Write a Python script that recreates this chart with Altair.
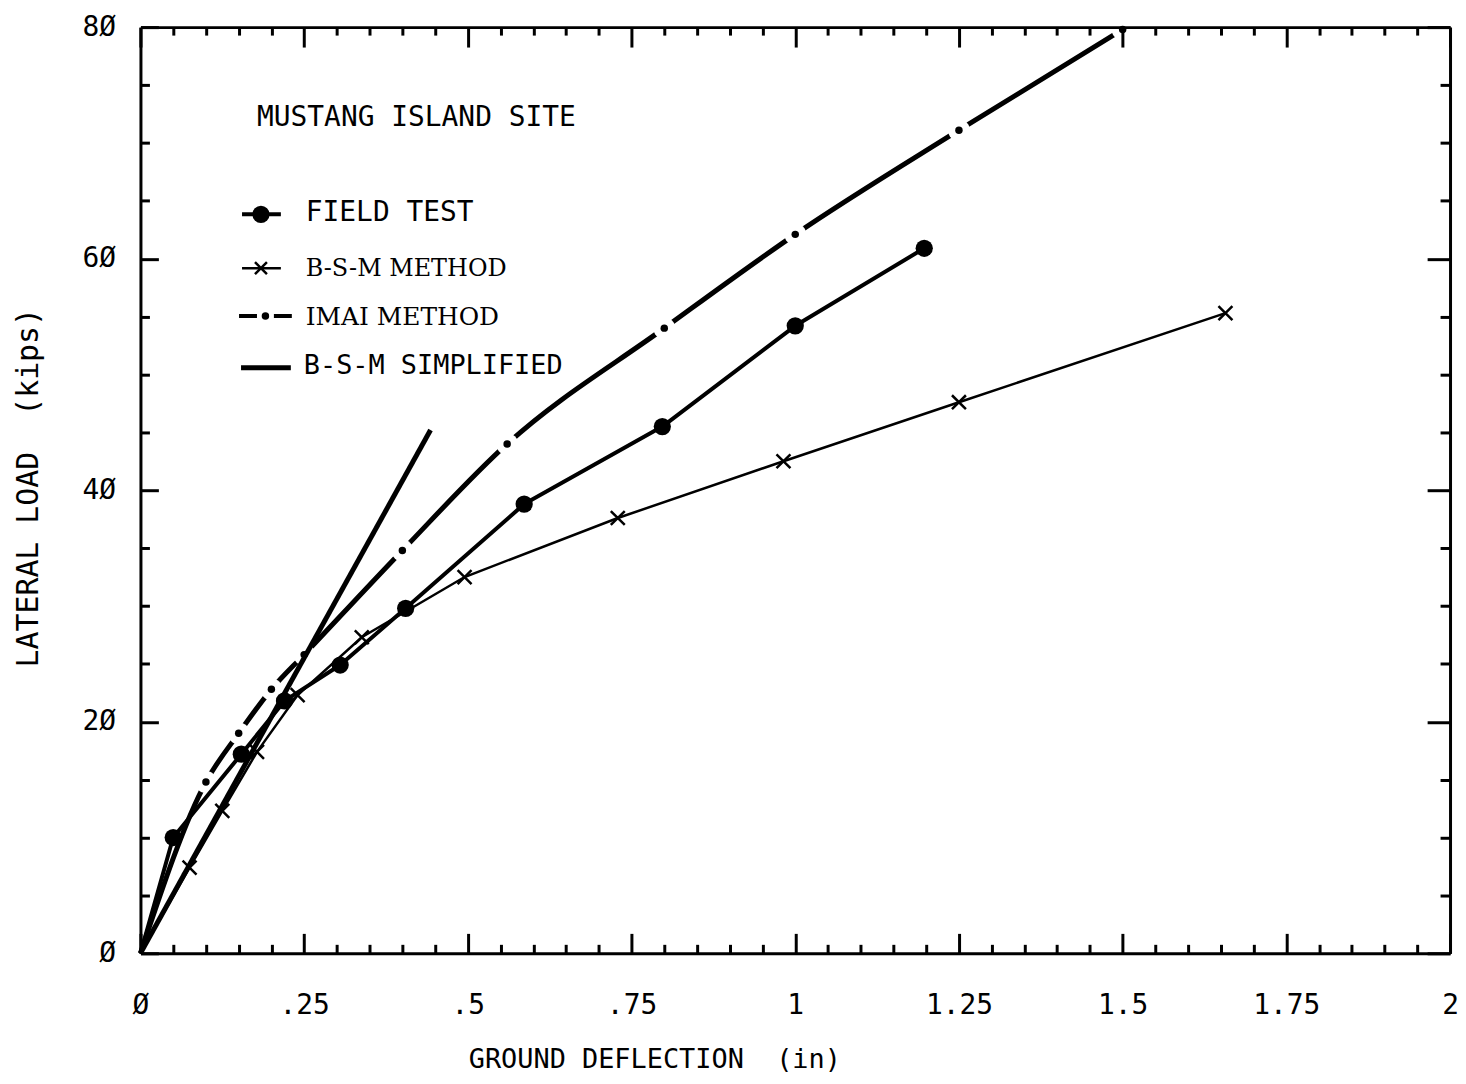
import json
import altair as alt
import pandas as pd

# ---------------- data ----------------
FIELD_X = [0, 0.05, 0.154, 0.22, 0.305, 0.405, 0.586, 0.797, 1.0, 1.197]
FIELD_Y = [0, 10.0, 17.2, 21.8, 24.9, 29.8, 38.8, 45.5, 54.2, 60.9]

BSM_X = [0, 0.075, 0.125, 0.178, 0.24, 0.338, 0.495, 0.729, 0.982, 1.25, 1.657]
BSM_Y = [0, 7.4, 12.3, 17.4, 22.3, 27.3, 32.5, 37.6, 42.5, 47.6, 55.3]

IMAI_X = [0, 0.1, 0.15, 0.2, 0.25, 0.4, 0.56, 0.8, 1.0, 1.25, 1.5]
IMAI_Y = [0, 14.8, 19.0, 22.8, 25.8, 34.8, 44.0, 54.0, 62.1, 71.1, 79.8]

SIMP_X = [0, 0.443]
SIMP_Y = [0, 45.2]

X_MAJOR = [0, 0.25, 0.5, 0.75, 1.0, 1.25, 1.5, 1.75, 2.0]
X_MINOR = [round(i * 0.05, 2) for i in range(41)]
Y_MAJOR = [0, 20, 40, 60, 80]
Y_MINOR = [i * 5 for i in range(17)]
X_TICK_LABELS = ["Ø", ".25", ".5", ".75", "1", "1.25", "1.5", "1.75", "2"]
Y_TICK_LABELS = ["Ø", "2Ø", "4Ø", "6Ø", "8Ø"]

TITLE = "MUSTANG ISLAND SITE"
LEG_LABELS = ["FIELD TEST", "B-S-M METHOD", "IMAI METHOD", "B-S-M SIMPLIFIED"]
X_TITLE = "GROUND DEFLECTION\u00a0\u00a0(in)"
Y_TITLE = "LATERAL LOAD\u00a0\u00a0(kips)"

# ---------------- layout / style ----------------
W, H = 1315, 930
SANS = "DejaVu Sans Mono"
SERIF = "DejaVu Serif"
INK = "black"

xs = alt.Scale(domain=[0, 2], nice=False)
ys = alt.Scale(domain=[0, 80], nice=False)

MAJ_X = "abs(datum.value*4 - round(datum.value*4)) < 0.001"
MAJ_Y = "abs(datum.value/20 - round(datum.value/20)) < 0.001"

x_main = alt.Axis(
    orient="bottom", values=X_MAJOR,
    labelExpr=json.dumps(X_TICK_LABELS, ensure_ascii=False) + "[round(datum.value*4)]",
    ticks=False, tickSize=0, domain=True, domainColor=INK, domainWidth=3,
    labelFont=SANS, labelFontSize=28, labelColor=INK, labelPadding=38,
    labelFlush=False, labelOverlap=False, grid=False, zindex=1,
    title=X_TITLE, titleFont=SANS, titleFontSize=27, titleFontWeight="normal",
    titleColor=INK, titleX=516, titleY=107, titleAlign="center", titleBaseline="middle",
)
y_main = alt.Axis(
    orient="left", values=Y_MAJOR,
    labelExpr=json.dumps(Y_TICK_LABELS, ensure_ascii=False) + "[round(datum.value/20)]",
    ticks=False, tickSize=0, domain=True, domainColor=INK, domainWidth=3,
    labelFont=SANS, labelFontSize=28, labelColor=INK, labelPadding=25,
    labelOverlap=False, grid=False, zindex=1,
    title=Y_TITLE, titleFont=SANS, titleFontSize=30, titleFontWeight="normal",
    titleColor=INK, titleX=-112, titleY=462, titleAngle=270,
    titleAlign="center", titleBaseline="middle",
)


def tick_axis(orient, offset, values, test, major, minor, domain):
    return alt.Axis(
        orient=orient, offset=offset, values=values, labels=False,
        domain=domain, domainColor=INK, domainWidth=3,
        ticks=True, tickColor=INK, tickWidth=3,
        tickSize={"condition": {"test": test, "value": major}, "value": minor},
        grid=False, title="", zindex=1,
    )


x_tick_bottom = tick_axis("top", -H, X_MINOR, MAJ_X, 20, 9, False)
x_tick_top = tick_axis("bottom", -H, X_MINOR, MAJ_X, 20, 8, True)
y_tick_left = tick_axis("right", -W, Y_MINOR, MAJ_Y, 18, 9, False)
y_tick_right = tick_axis("left", -W, Y_MINOR, MAJ_Y, 23, 10, True)


def X(axis):
    return alt.X("x:Q", scale=xs, axis=axis)


def Y(axis):
    return alt.Y("y:Q", scale=ys, axis=axis)


imai = pd.DataFrame({"x": IMAI_X, "y": IMAI_Y})
bsm = pd.DataFrame({"x": BSM_X, "y": BSM_Y})
field = pd.DataFrame({"x": FIELD_X, "y": FIELD_Y})
simp = pd.DataFrame({"x": SIMP_X, "y": SIMP_Y})

imai_line = alt.Chart(imai).mark_line(
    color=INK, strokeWidth=5, interpolate="monotone"
).encode(x=X(x_main), y=Y(y_main))

imai_halo = alt.Chart(imai).transform_filter("datum.x > 0").mark_point(
    shape="circle", filled=True, color="white", opacity=1, size=484
).encode(x=X(x_tick_bottom), y=Y(y_tick_left))

imai_dots = alt.Chart(imai).transform_filter("datum.x > 0").mark_point(
    shape="circle", filled=True, color=INK, opacity=1, size=56
).encode(x=X(x_tick_top), y=Y(y_tick_right))

simp_line = alt.Chart(simp).mark_line(color=INK, strokeWidth=5).encode(
    x=X(None), y=Y(None))

bsm_line = alt.Chart(bsm).mark_line(color=INK, strokeWidth=2.5).encode(
    x=X(None), y=Y(None))

XSHAPE = "M-1,-1L1,1M-1,1L1,-1"
bsm_pts = alt.Chart(bsm).transform_filter("datum.x > 0").mark_point(
    shape=XSHAPE, filled=False, color=INK, strokeWidth=2.5, opacity=1, size=196
).encode(x=X(None), y=Y(None))

field_line = alt.Chart(field).mark_line(
    color=INK, strokeWidth=4, strokeJoin="round"
).encode(x=X(None), y=Y(None))

field_pts = alt.Chart(field).transform_filter("datum.x > 0").mark_point(
    shape="circle", filled=True, color=INK, opacity=1, size=300
).encode(x=X(None), y=Y(None))

# ---------------- legend / annotation ----------------
one = pd.DataFrame({"k": [0]})


def txt(s, x, y, font, size, weight="normal"):
    return alt.Chart(one).mark_text(
        align="left", baseline="middle", font=font, fontSize=size,
        fontWeight=weight, color=INK
    ).encode(x=alt.value(x), y=alt.value(y), text=alt.value(s))


def rule(x1, x2, y, w, dash=None):
    kw = dict(color=INK, strokeWidth=w)
    if dash:
        kw["strokeDash"] = dash
    return alt.Chart(one).mark_rule(**kw).encode(
        x=alt.value(x1), x2=alt.value(x2), y=alt.value(y))


def sym(shape, x, y, size, filled, sw=2.5):
    return alt.Chart(one).mark_point(
        shape=shape, filled=filled, color=INK, size=size, opacity=1, strokeWidth=sw
    ).encode(x=alt.value(x), y=alt.value(y))


legend = [
    txt(TITLE, 117, 91, SANS, 28),
    rule(102, 141, 188, 4), sym("circle", 121, 188, 300, True),
    txt(LEG_LABELS[0], 166, 187, SANS, 28),
    rule(102, 141, 242, 2.5), sym(XSHAPE, 121, 242, 144, False),
    txt(LEG_LABELS[1], 166, 243, SERIF, 24),
    rule(99, 152, 290, 4, [18, 17]), sym("circle", 125.5, 290, 56, True),
    txt(LEG_LABELS[2], 166, 291, SERIF, 25),
    rule(101, 151, 342, 5),
    txt(LEG_LABELS[3], 164, 340, SANS, 27),
]

chart = alt.layer(
    imai_line, imai_halo, imai_dots, simp_line, bsm_line, bsm_pts,
    field_line, field_pts, *legend
).resolve_axis(
    x="independent", y="independent"
).properties(
    width=W, height=H, background="white",
    autosize=alt.AutoSizeParams(type="none"),
    padding={"left": 133, "top": 17, "right": 8, "bottom": 120},
).configure_view(stroke="transparent")

chart.save("out.html", embed_options={"renderer": "svg", "actions": False})
